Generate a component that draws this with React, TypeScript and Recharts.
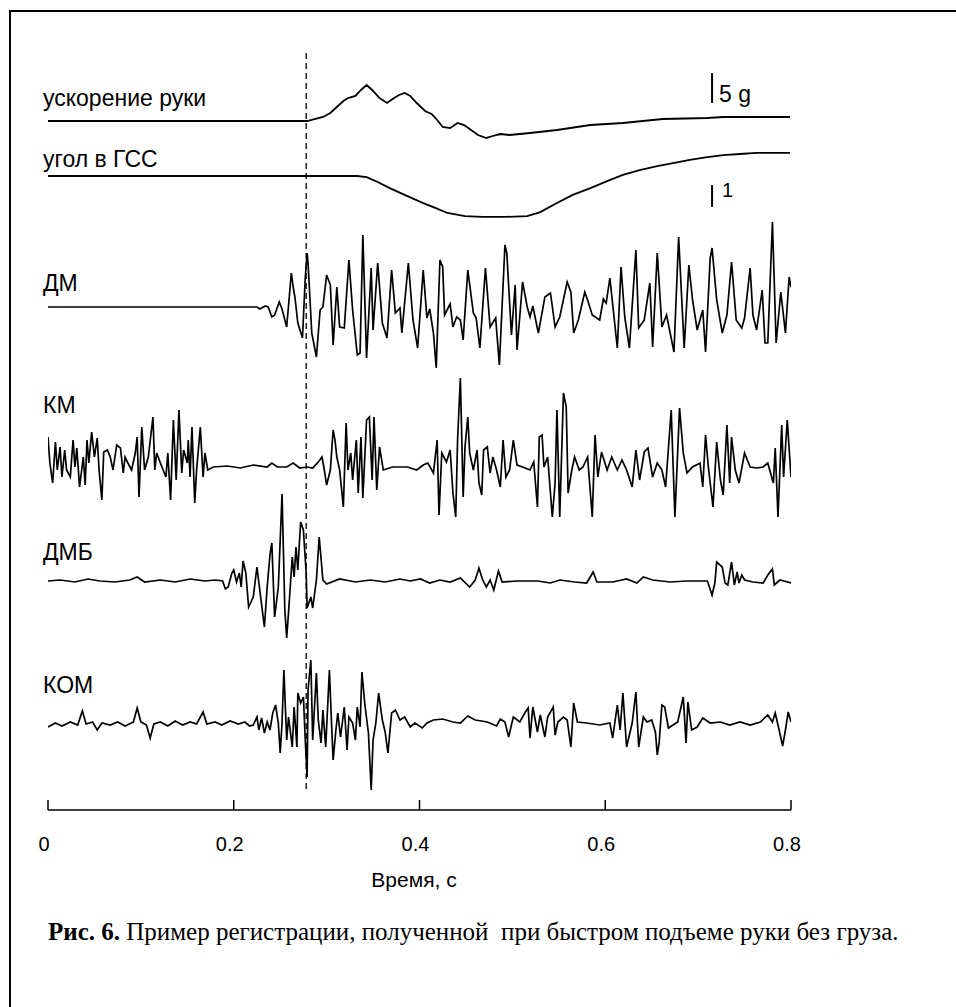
import React from 'react';
import { LineChart, Line, XAxis, YAxis, ReferenceLine } from 'recharts';

// time in ms, value in trace units
const accelG: [number, number][] = [
  [0, 0], [271, 0], [279, 0], [287, 0.33], [296, 0.67], [304, 1.33], [311, 2.33], [318, 3.33],
  [323, 3.83], [331, 4.17], [337, 5.17], [343, 6.0], [349, 5.17], [357, 3.83], [365, 3.0],
  [371, 3.67], [378, 4.33], [384, 4.67], [390, 4.17], [397, 3.0], [406, 1.67], [413, 1.17],
  [419, 0.17], [425, -1.0], [433, -1.17], [441, -0.33], [448, -0.67], [454, -1.33], [463, -2.33],
  [472, -2.83], [479, -2.5], [487, -2.17], [497, -2.33], [519, -2.0], [548, -1.5], [584, -0.67],
  [619, -0.33], [662, 0.33], [710, 0.5], [727, 0.67], [799, 0.67],
];

const shoulderAngle: [number, number][] = [
  [0, 0], [333, 0], [343, -0.05], [355, -0.27], [368, -0.55], [384, -0.86], [404, -1.23],
  [417, -1.45], [430, -1.68], [449, -1.82], [468, -1.86], [492, -1.86], [516, -1.82],
  [530, -1.64], [548, -1.23], [565, -0.86], [584, -0.55], [602, -0.23], [619, 0.05],
  [637, 0.27], [656, 0.45], [673, 0.59], [691, 0.73], [710, 0.86], [727, 0.95], [745, 1.0],
  [763, 1.05], [799, 1.05],
];

const emgDM: [number, number][] = [
  [0, 0], [225, 0], [228, -2], [234, 1], [237, 0], [241, -10], [244, -8], [249, 5], [252, -2],
  [257, -20], [262, 34], [264, 20], [266, 9], [269, -16], [274, -31], [277, 29], [279, 54],
  [280, 44], [284, -26], [289, -50], [293, -3], [296, 0], [300, 32], [304, 22], [307, -38],
  [311, 20], [314, -20], [319, -21], [324, 47], [328, -3], [333, -48], [336, -46], [339, 72],
  [343, -51], [348, 39], [350, -23], [355, 44], [360, -16], [365, -31], [370, 37], [374, -6],
  [379, -1], [381, -26], [388, 44], [393, -13], [398, -41], [404, 37], [408, -11], [411, -2],
  [415, -26], [418, -61], [422, 47], [425, 40], [427, -8], [433, 3], [436, -20], [440, -10],
  [444, -13], [447, -33], [452, 37], [458, -6], [461, -11], [465, -41], [471, 39], [476, -20],
  [482, -11], [486, -58], [492, 62], [494, 54], [499, -28], [503, 22], [505, -43], [511, 25],
  [516, 0], [519, -10], [522, 1], [528, -26], [535, 10], [541, 14], [546, -20], [551, -10],
  [559, 25], [563, 15], [566, -26], [571, -13], [578, 15], [581, 7], [586, -8], [594, -13],
  [598, 8], [601, 4], [605, 29], [613, -41], [617, 40], [621, -10], [626, -41], [633, 57],
  [636, -21], [642, -13], [648, 24], [651, -40], [656, 54], [661, -20], [666, -8], [674, -45],
  [679, 70], [685, -41], [690, 42], [694, 7], [699, -23], [705, -3], [708, -45], [713, 49],
  [715, 59], [720, 7], [726, -26], [731, -8], [736, 45], [741, -13], [747, -21], [750, -11],
  [756, 39], [759, -8], [763, -23], [769, 17], [772, -36], [775, -36], [780, 85], [784, -36],
  [789, 15], [794, -26], [798, 30], [800, 20],
];

const emgKM: [number, number][] = [
  [0, 30], [2, 4], [5, -16], [8, 25], [10, -3], [13, 20], [15, -10], [18, 17], [20, -3],
  [24, -10], [27, 27], [29, 0], [31, 19], [34, -20], [38, 10], [40, -18], [42, 27], [44, 4],
  [47, 35], [50, 10], [53, 29], [55, -3], [58, -33], [60, 15], [64, 17], [67, 10], [70, -3],
  [74, 22], [78, 19], [81, -6], [83, 10], [86, 4], [90, -3], [94, 14], [96, 30], [98, -30],
  [101, 40], [104, -3], [108, 10], [113, 50], [115, -3], [117, 14], [121, 4], [124, -3],
  [127, -10], [129, 14], [132, -33], [135, 47], [138, -13], [141, 57], [144, -6], [146, 17],
  [150, 4], [151, 27], [153, -10], [155, 40], [158, -36], [160, -3], [164, 40], [167, -10],
  [169, 14], [172, -3], [178, 0], [193, 1], [207, -1], [221, 2], [236, 0], [241, 4], [247, 0],
  [257, 0], [264, 4], [271, -1], [279, 0], [285, -1], [291, 5], [295, 10], [297, 0], [300, -18],
  [304, -3], [307, 37], [309, 27], [311, 10], [314, -3], [318, -40], [321, 44], [323, -3],
  [326, 14], [328, -13], [332, 27], [334, -26], [337, 30], [339, -31], [343, 47], [346, 50],
  [349, -13], [351, 50], [354, -23], [357, 20], [361, -3], [371, 0], [387, 0], [397, -3],
  [404, 2], [409, 4], [415, -6], [419, 27], [421, -48], [424, 14], [429, 5], [433, 17],
  [436, -26], [439, -50], [441, 27], [444, 89], [447, -30], [449, 20], [452, 50], [454, 14],
  [458, -3], [462, 17], [464, -16], [467, -28], [469, 17], [473, 20], [476, -6], [479, 10],
  [483, -3], [487, -20], [490, 27], [493, -10], [497, -3], [501, 27], [505, 2], [511, 0],
  [519, -3], [523, 5], [527, -40], [529, 30], [532, 32], [534, 0], [538, 10], [543, -50],
  [546, -16], [548, 57], [551, -50], [555, 74], [558, 60], [560, -26], [564, -3], [567, 10],
  [572, -3], [576, 0], [581, 10], [586, -50], [589, 32], [592, -10], [596, 15], [602, -3],
  [607, 10], [613, -3], [618, 7], [623, -3], [629, -20], [633, 17], [637, -13], [642, 15],
  [646, 19], [651, -10], [656, 4], [661, -3], [665, -20], [671, 57], [675, -50], [680, 59],
  [684, 14], [688, -6], [694, 0], [702, 4], [705, -20], [708, 32], [711, 0], [716, -40],
  [720, 25], [724, -13], [727, -28], [731, 42], [734, -16], [736, 30], [740, -3], [744, -16],
  [750, 14], [756, 0], [763, -1], [770, 0], [775, 4], [781, -16], [783, 19], [786, -50],
  [790, 42], [792, -10], [796, 47], [800, -10],
];

const emgDMB: [number, number][] = [
  [0, 0], [13, 1], [29, -1], [43, 2], [56, 0], [72, -1], [88, 1], [96, 4], [104, -1], [121, 1],
  [137, -1], [153, 2], [169, 0], [180, 1], [188, 0], [191, -8], [194, -6], [198, 8], [200, 11],
  [203, -1], [206, 8], [208, -6], [210, 20], [213, 8], [216, -26], [221, -16], [225, 14],
  [228, -9], [233, -46], [236, -6], [239, 26], [241, 38], [244, -36], [248, -6], [252, 87],
  [255, -29], [257, -57], [259, -31], [263, 24], [265, 4], [267, 34], [269, 11], [272, 59],
  [275, 51], [278, 8], [279, -27], [283, -16], [285, -27], [289, 1], [292, 44], [296, 1],
  [300, -3], [314, 2], [331, -1], [347, 1], [363, -1], [379, 2], [390, 0], [401, 2], [411, -2],
  [422, 1], [433, -1], [444, 3], [454, -6], [460, 1], [464, 13], [468, 1], [472, -6], [476, 1],
  [480, -9], [485, 10], [489, -1], [505, 0], [527, 0], [541, -2], [551, 1], [567, -1], [580, -2],
  [587, 9], [591, -1], [608, -1], [623, 2], [634, -2], [641, 4], [651, 1], [670, -1], [688, 0],
  [710, 0], [715, -14], [718, -2], [720, 19], [726, 14], [729, -2], [732, -4], [736, 19],
  [739, -4], [742, 9], [744, -2], [747, 6], [750, 1], [759, -1], [770, -2], [775, 6], [780, 12],
  [782, -4], [788, 1], [800, -2],
];

const emgKOM: [number, number][] = [
  [0, -3], [8, 1], [15, -2], [24, 2], [32, -1], [37, 13], [41, 0], [48, 2], [53, -6], [58, 1],
  [67, -1], [75, 2], [83, -2], [92, 2], [96, 16], [100, 2], [106, -1], [110, -14], [114, 0],
  [121, 2], [129, -2], [137, 3], [145, -1], [153, 2], [160, 0], [167, 12], [171, 0], [180, 2],
  [187, -1], [196, 3], [205, 0], [212, 2], [217, -2], [221, -1], [225, 7], [227, -6], [230, 6],
  [233, -9], [236, 2], [239, -6], [242, 11], [245, 19], [248, 1], [250, -29], [252, 1],
  [254, 54], [257, -16], [259, 7], [263, -23], [265, 17], [268, -23], [269, 31], [272, 21],
  [275, 27], [277, -16], [279, -53], [280, 34], [283, 64], [285, -16], [289, 51], [291, 4],
  [294, -19], [296, 14], [299, -23], [303, 54], [305, 7], [307, -36], [310, -6], [312, 11],
  [315, -13], [319, 17], [322, -26], [324, 7], [328, 1], [331, -16], [333, 17], [336, -3],
  [338, 52], [341, 21], [345, -9], [348, -66], [350, -16], [353, 1], [356, 31], [360, 4],
  [363, -8], [366, -29], [370, 11], [374, 14], [379, 4], [384, 7], [390, -3], [395, 1],
  [403, -4], [408, 1], [415, 4], [425, 5], [436, 2], [444, 1], [452, 8], [460, 4], [473, 2],
  [483, -2], [487, 5], [492, 2], [496, -13], [501, 7], [508, 2], [514, 12], [517, 16], [519, -14],
  [522, 17], [527, -8], [530, 9], [535, -13], [538, 7], [544, 17], [546, -11], [549, 2], [555, 7],
  [559, 4], [563, -23], [566, 21], [570, 2], [580, 1], [594, -1], [605, 1], [608, -14], [613, 19],
  [616, -6], [619, 31], [623, -23], [629, 1], [633, 32], [636, -23], [641, 7], [645, 2], [650, 4],
  [654, -8], [656, -31], [658, -19], [661, 19], [664, 17], [668, -4], [673, -1], [678, 2],
  [684, 27], [687, -19], [689, 22], [693, -6], [699, -3], [705, 6], [713, 1], [724, 2], [734, -1],
  [745, 2], [756, -1], [767, 2], [775, 9], [780, 2], [783, 11], [786, -1], [791, -22], [794, -6],
  [797, 12], [800, 2],
];

const timeTicks = [0, 0.2, 0.4, 0.6, 0.8];
const onsetTime = 0.278;
const accelBar = [3, 8]; // 5 g
const angleBar = [-1.41, -0.41]; // 1 unit
const barTime = 0.715;

const toRows = (arr: [number, number][]) => arr.map(([ms, v]) => ({ t: ms / 1000, v }));

// layout
const CHART_W = 956;
const CHART_H = 900;
const PLOT_TOP = 40;
const PLOT_BOTTOM = 810;

// baseline y position (px) and px per unit for each trace
const domainFor = (base: number, k: number): [number, number] => [
  -(PLOT_BOTTOM - base) / k,
  (base - PLOT_TOP) / k,
];

const traces = [
  { id: 'acc', data: accelG, base: 121, k: 6, width: 1.8 },
  { id: 'ang', data: shoulderAngle, base: 176, k: 22, width: 1.8 },
  { id: 'dm', data: emgDM, base: 307, k: 1, width: 1.7 },
  { id: 'km', data: emgKM, base: 467, k: 1, width: 1.7 },
  { id: 'dmb', data: emgDMB, base: 581, k: 1, width: 1.7 },
  { id: 'kom', data: emgKOM, base: 724, k: 1, width: 1.7 },
];

const labels = [
  { text: 'ускорение руки', y: 106 },
  { text: 'угол в ГСС', y: 167 },
  { text: 'ДМ', y: 291 },
  { text: 'КМ', y: 413 },
  { text: 'ДМБ', y: 560 },
  { text: 'КОМ', y: 693 },
];

const SANS = '"Liberation Sans", Arial, sans-serif';
const SERIF = '"Liberation Serif", "Times New Roman", serif';

const TimeTick = (props: any) => {
  const { x, y, payload } = props;
  return (
    <g>
      <line x1={x} y1={y - 10} x2={x} y2={y} stroke="#000" strokeWidth={1.5} />
      <text x={x - 4} y={y + 41} textAnchor="middle" fontFamily={SANS} fontSize={20} fill="#000">
        {payload.value}
      </text>
    </g>
  );
};

export default function App() {
  return (
    <div style={{ position: 'absolute', left: 0, top: 0, width: 956, height: 1007, overflow: 'hidden', background: '#fff' }}>
      <div
        style={{
          position: 'absolute', left: 9, top: 10, width: 947, height: 997,
          borderTop: '2px solid #000', borderLeft: '2px solid #000', boxSizing: 'border-box',
        }}
      />
      <div style={{ position: 'absolute', left: 0, top: 0 }}>
        <LineChart
          width={CHART_W}
          height={CHART_H}
          margin={{ top: PLOT_TOP, right: CHART_W - 791, bottom: 0, left: 48 }}
        >
          <XAxis
            dataKey="t"
            type="number"
            domain={[0, 0.8]}
            ticks={timeTicks}
            allowDataOverflow
            height={CHART_H - PLOT_BOTTOM}
            axisLine={{ stroke: '#000', strokeWidth: 1.5 }}
            tickLine={false}
            tickSize={0}
            tickMargin={0}
            tick={<TimeTick />}
            interval={0}
          />
          {traces.map((tr) => (
            <YAxis
              key={tr.id}
              yAxisId={tr.id}
              type="number"
              domain={domainFor(tr.base, tr.k)}
              allowDataOverflow
              hide
            />
          ))}
          <ReferenceLine
            yAxisId="kom"
            segment={[{ x: onsetTime, y: 671 }, { x: onsetTime, y: -69 }]}
            stroke="#000"
            strokeWidth={1.3}
            strokeDasharray="6 4"
          />
          <ReferenceLine
            yAxisId="acc"
            segment={[{ x: barTime, y: accelBar[0] }, { x: barTime, y: accelBar[1] }]}
            stroke="#000"
            strokeWidth={2}
          />
          <ReferenceLine
            yAxisId="ang"
            segment={[{ x: barTime, y: angleBar[0] }, { x: barTime, y: angleBar[1] }]}
            stroke="#000"
            strokeWidth={2}
          />
          {traces.map((tr) => (
            <Line
              key={tr.id}
              yAxisId={tr.id}
              data={toRows(tr.data)}
              dataKey="v"
              type="linear"
              stroke="#000"
              strokeWidth={tr.width}
              dot={false}
              activeDot={false}
              isAnimationActive={false}
            />
          ))}
        </LineChart>
      </div>
      <svg width={956} height={1007} style={{ position: 'absolute', left: 0, top: 0, pointerEvents: 'none' }}>
        {labels.map((l) => (
          <text key={l.text} x={43} y={l.y} fontFamily={SANS} fontSize={23} fill="#000">
            {l.text}
          </text>
        ))}
        <text x={719} y={102} fontFamily={SANS} fontSize={23} fill="#000">5 g</text>
        <text x={722} y={197} fontFamily={SANS} fontSize={20} fill="#000">1</text>
        <text x={414} y={887} textAnchor="middle" fontFamily={SANS} fontSize={21} fill="#000">Время, с</text>
        <text x={48} y={940} fontFamily={SERIF} fontSize={25} fill="#000" style={{ whiteSpace: 'pre' }}>
          <tspan fontWeight="bold">Рис. 6.</tspan>
          <tspan> Пример регистрации, полученной  при быстром подъеме руки без груза.</tspan>
        </text>
      </svg>
    </div>
  );
}
